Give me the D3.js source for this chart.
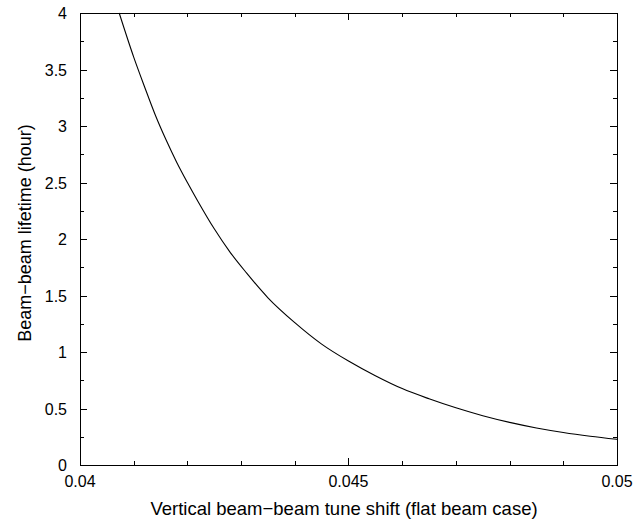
<!DOCTYPE html>
<html><head><meta charset="utf-8">
<script src="https://cdn.jsdelivr.net/npm/d3@7"></script>
<style>body{margin:0;background:#fff}svg{display:block}text{font-family:"Liberation Sans",Arial,sans-serif;fill:#000}</style>
</head><body><svg id="c" width="639" height="525"></svg>
<script>
const tuneShift = [0.04073,0.0410,0.0412,0.0414,0.0416,0.0418,0.0420,0.0422,0.0425,0.0428,0.0431,0.0435,0.0440,0.0445,0.0450,0.0455,0.0460,0.0465,0.0470,0.0475,0.0480,0.0485,0.0490,0.0495,0.0500];
const lifetime = [4.0,3.61,3.35,3.10,2.88,2.68,2.50,2.33,2.09,1.88,1.70,1.48,1.26,1.07,0.92,0.79,0.676,0.586,0.506,0.436,0.377,0.328,0.288,0.255,0.227];
const xTickLabels = [0.04,0.045,0.05];
const yTickLabels = [0,0.5,1,1.5,2,2.5,3,3.5,4];
const xLabel = "Vertical beam\u2212beam tune shift (flat beam case)";
const yLabel = "Beam\u2212beam lifetime (hour)";

const L=80,R=617,T=13,B=465;
const svg=d3.select("#c");
const x=d3.scaleLinear().domain([0.04,0.05]).range([L,R]);
const y=d3.scaleLinear().domain([0,4]).range([B,T]);
const xMinor=d3.range(0,11).map(i=>0.04+i*0.001);
const yMinor=d3.range(0,17).map(i=>i*0.25);
const isMajX=v=>xTickLabels.some(t=>Math.abs(t-v)<1e-9);
const isMajY=v=>yTickLabels.some(t=>Math.abs(t-v)<1e-9);

const g=svg.append("g").attr("stroke","#000").attr("stroke-width",1).attr("fill","none");
xMinor.forEach(v=>{const len=isMajX(v)?7:4;const px=Math.round(x(v))+0.5;
  g.append("line").attr("x1",px).attr("x2",px).attr("y1",B).attr("y2",B-len);
  g.append("line").attr("x1",px).attr("x2",px).attr("y1",T).attr("y2",T+len);});
yMinor.forEach(v=>{const len=isMajY(v)?7:4;const py=Math.round(y(v))+0.5;
  g.append("line").attr("y1",py).attr("y2",py).attr("x1",L).attr("x2",L+len);
  g.append("line").attr("y1",py).attr("y2",py).attr("x1",R).attr("x2",R-len);});
g.append("rect").attr("x",L+0.5).attr("y",T+0.5).attr("width",R-L).attr("height",B-T);

const data=tuneShift.map((d,i)=>[d,lifetime[i]]);
svg.append("path").datum(data).attr("fill","none").attr("stroke","#000").attr("stroke-width",1.1)
  .attr("d",d3.line().x(d=>x(d[0])).y(d=>y(d[1])).curve(d3.curveMonotoneX));

const fmt=v=>String(v);
svg.selectAll(".xt").data(xTickLabels).enter().append("text").attr("x",d=>x(d)).attr("y",487)
  .attr("text-anchor","middle").attr("font-size",16).text(fmt);
svg.selectAll(".yt").data(yTickLabels).enter().append("text").attr("x",67).attr("y",d=>y(d)+6)
  .attr("text-anchor","end").attr("font-size",16).text(fmt);
svg.append("text").attr("x",344).attr("y",515).attr("text-anchor","middle").attr("font-size",18.5).text(xLabel);
svg.append("text").attr("transform","translate(31,233) rotate(-90)").attr("text-anchor","middle").attr("font-size",18).text(yLabel);
</script></body></html>
